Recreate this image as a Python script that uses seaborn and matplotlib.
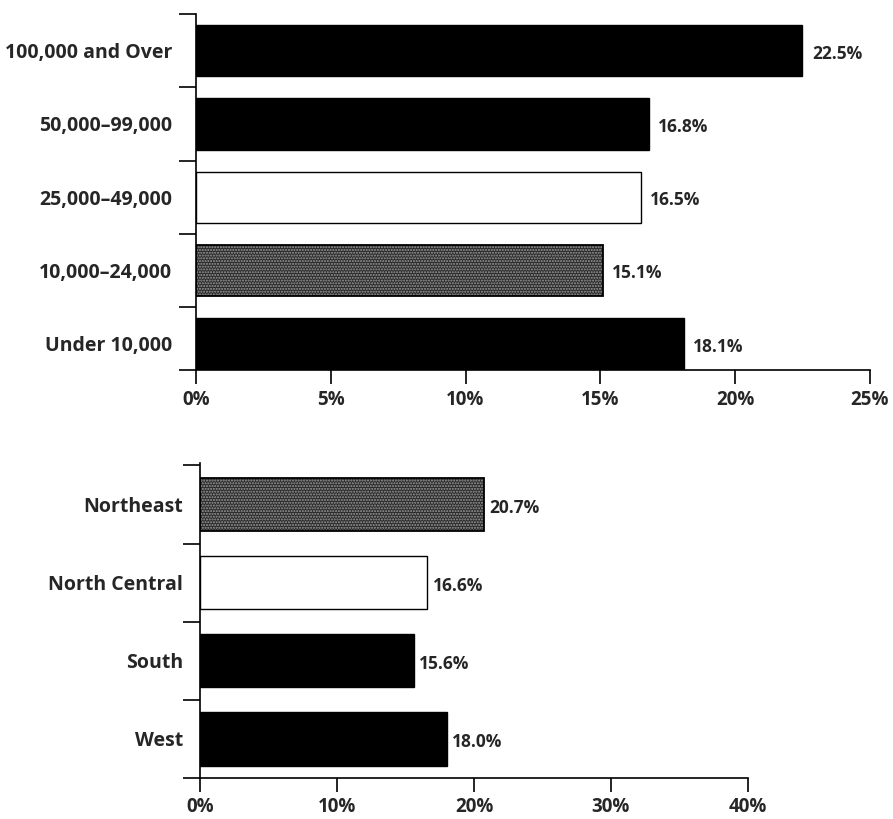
import numpy as np
import matplotlib
matplotlib.use("Agg")
import matplotlib.pyplot as plt
import matplotlib.patches as mpatches
import seaborn as sns

# data
size_cats = ["100,000 and Over", "50,000\u201399,000", "25,000\u201349,000", "10,000\u201324,000", "Under 10,000"]
size_vals = [22.5, 16.8, 16.5, 15.1, 18.1]
size_fills = ["black", "black", "white", "gray", "black"]

region_cats = ["Northeast", "North Central", "South", "West"]
region_vals = [20.7, 16.6, 15.6, 18.0]
region_fills = ["gray", "white", "black", "black"]

size_ticks = [0, 5, 10, 15, 20, 25]
region_ticks = [0, 10, 20, 30, 40]

sns.set_style("white")
plt.rcParams["font.family"] = ["Open Sans", "DejaVu Sans"]
plt.rcParams["font.weight"] = "bold"

fill_map = {"black": "black", "white": "white", "gray": "#2a2a2a"}

fig = plt.figure(figsize=(8.93, 8.19), dpi=100)
ax1 = fig.add_axes([0.2195, 0.548, 0.7545, 0.435])
ax2 = fig.add_axes([0.224, 0.05, 0.6136, 0.3847])


def draw(ax, cats, vals, fills, ticks, width, ylim, label_pad, val_off):
    pal = [fill_map[f] for f in fills]
    sns.barplot(x=vals, y=cats, hue=cats, palette=pal, orient="h", width=width,
                edgecolor="black", linewidth=1.0, legend=False, saturation=1, ax=ax)
    for p, f in zip(ax.patches, fills):
        if f == "gray":
            # stippled fill, outlined separately
            p.set_hatch("......")
            p.set_edgecolor("#9c9c9c")
            p.set_linewidth(0)
            ax.add_patch(mpatches.Rectangle((p.get_x(), p.get_y()), p.get_width(), p.get_height(),
                                            fill=False, edgecolor="black", linewidth=1.3, zorder=3))
    for i, v in enumerate(vals):
        ax.text(v + val_off, i + 0.04, f"{v:.1f}%", va="center", ha="left",
                fontsize=12.5, fontweight="bold")
    ax.set_xlim(ticks[0], ticks[-1])
    ax.set_ylim(*ylim)
    ax.set_xticks(ticks)
    ax.set_xticklabels([f"{t}%" for t in ticks], fontsize=13.5, fontweight="bold")
    ax.set_yticks(range(len(cats)))
    ax.set_yticklabels(cats, fontsize=14, fontweight="bold")
    ax.set_yticks(list(np.arange(len(cats)) - 0.5) + [ylim[0]], minor=True)
    ax.tick_params(axis="y", which="major", length=0, pad=label_pad)
    ax.tick_params(axis="y", which="minor", length=12, width=1.2, color="black", left=True)
    ax.tick_params(axis="x", length=10, width=1.2, color="black", bottom=True, pad=4)
    ax.set_xlabel("")
    ax.set_ylabel("")
    sns.despine(ax=ax, top=True, right=True)
    for s in ["left", "bottom"]:
        ax.spines[s].set_color("black")
        ax.spines[s].set_linewidth(1.2)


draw(ax1, size_cats, size_vals, size_fills, size_ticks, 0.7, (4.36, -0.5), 17, 0.35)
draw(ax2, region_cats, region_vals, region_fills, region_ticks, 0.68, (3.5, -0.53), 12, 0.4)

fig.savefig("out.png", dpi=100)
